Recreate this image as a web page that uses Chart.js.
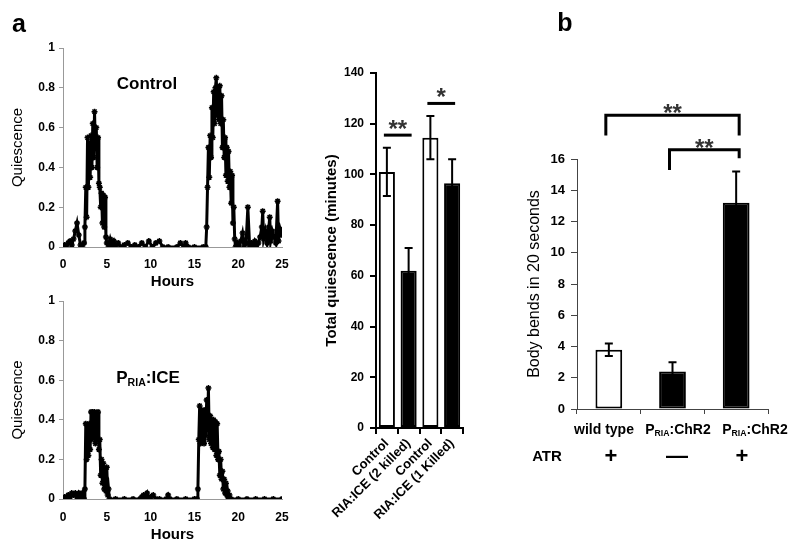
<!DOCTYPE html>
<html lang="en">
<head>
    <meta charset="UTF-8">
    <title>Quiescence and body bends</title>
    <script src="https://cdn.jsdelivr.net/npm/chart.js"></script>
    <style>
        body { margin: 0; background: #fff; font-family: Arial, "Liberation Sans", sans-serif; }
        #page { position: relative; width: 800px; height: 552px; overflow: hidden; }
        canvas { position: absolute; }
        .lbl { position: absolute; transform: translate(-50%, -50%); white-space: nowrap; line-height: 1; font-weight: bold; color: #000; }
        .lbl sub { font-size: 0.62em; vertical-align: -0.25em; }
    </style>
</head>
<body>
<div id="page">
    <canvas id="ctrlChart" width="300" height="300" style="left:0;top:0"></canvas>
    <canvas id="iceChart" width="300" height="297" style="left:0;top:255px"></canvas>
    <canvas id="killChart" width="200" height="552" style="left:300px;top:0"></canvas>
    <canvas id="bendChart" width="280" height="552" style="left:520px;top:0"></canvas>

    <div class="lbl" style="left:19px;top:23px;font-size:25px">a</div>
    <div class="lbl" style="left:565px;top:22px;font-size:25px">b</div>
    <div class="lbl" style="left:147px;top:83px;font-size:17px">Control</div>
    <div class="lbl" style="left:148px;top:378px;font-size:17px">P<sub>RIA</sub>:ICE</div>
    <div class="lbl" style="left:604px;top:429px;font-size:14px">wild type</div>
    <div class="lbl" style="left:678px;top:430px;font-size:14px">P<sub>RIA</sub>:ChR2</div>
    <div class="lbl" style="left:755px;top:430px;font-size:14px">P<sub>RIA</sub>:ChR2</div>
    <div class="lbl" style="left:547px;top:455px;font-size:15px">ATR</div>
    <div id="atrRow"></div>
</div>

<script>
    // panel a, top: control worms (hours, quiescence fraction)
    var ctrlHours = [
        0, 0.2, 0.4, 0.6, 0.8, 1.0, 1.2, 1.4, 1.6, 1.8, 2.0, 2.2, 2.4,
        2.5, 2.6, 2.7, 2.8, 2.9, 3.0, 3.1, 3.2, 3.3, 3.4, 3.5, 3.6, 3.7, 3.8, 3.9, 4.0, 4.1, 4.2, 4.3, 4.4, 4.5, 4.6, 4.7, 4.8, 4.9, 5.0,
        5.2, 5.4, 5.6, 5.8, 6.0, 6.3, 6.6, 7.0, 7.4, 7.8, 8.2, 8.6, 9.0, 9.4, 9.8, 10.2, 10.6, 11.0, 11.4, 12.0, 13.0, 13.4, 13.8, 14.0, 14.3, 15.0, 16.0, 16.3,
        16.4, 16.5, 16.6, 16.7, 16.8, 16.9, 17.0, 17.1, 17.2, 17.3, 17.4, 17.5, 17.6, 17.7, 17.8, 17.9, 18.0, 18.1, 18.2, 18.3, 18.4, 18.5, 18.6, 18.7, 18.8, 18.9, 19.0, 19.1, 19.2, 19.3, 19.4, 19.5, 19.6, 19.7,
        19.9, 20.1, 20.3, 20.5, 20.7, 20.9, 21.1, 21.3, 21.5, 21.7, 21.9, 22.1, 22.3, 22.5, 22.7, 22.8, 22.9, 23.1, 23.3, 23.5, 23.6, 23.7, 23.9, 24.1, 24.3, 24.5, 24.6, 24.8, 25.0
    ];
    var ctrlQuiescence = [
        0, 0.01, 0, 0.02, 0.03, 0.01, 0.04, 0.08, 0.12, 0.06, 0.01, 0, 0.02,
        0.1, 0.3, 0.15, 0.55, 0.3, 0.52, 0.35, 0.56, 0.4, 0.62, 0.45, 0.68, 0.5, 0.6, 0.4, 0.55, 0.32, 0.3, 0.2, 0.27, 0.12, 0.26, 0.1, 0.25, 0.05, 0.02,
        0, 0.04, 0.01, 0.03, 0, 0.02, 0, 0.01, 0.02, 0, 0.01, 0, 0.02, 0, 0.03, 0, 0.02, 0.03, 0, 0, 0, 0.02, 0, 0.02, 0, 0, 0, 0,
        0.1, 0.3, 0.5, 0.35, 0.56, 0.45, 0.7, 0.55, 0.78, 0.62, 0.8, 0.85, 0.66, 0.8, 0.64, 0.81, 0.62, 0.76, 0.5, 0.64, 0.45, 0.55, 0.36, 0.5, 0.33, 0.48, 0.3, 0.38, 0.22, 0.36, 0.12, 0.2, 0.04, 0,
        0.02, 0, 0.03, 0.07, 0.01, 0.02, 0.2, 0.01, 0.02, 0, 0.03, 0.01, 0.02, 0.05, 0.1, 0.18, 0.04, 0.08, 0.02, 0.1, 0.15, 0.03, 0.08, 0.05, 0.02, 0.23, 0.03, 0.09, 0.06
    ];

    // panel a, bottom: PRIA:ICE worms
    var iceHours = [
        0, 0.2, 0.4, 0.6, 0.8, 1.0, 1.2, 1.4, 1.6, 1.8, 2.0, 2.2, 2.4,
        2.5, 2.6, 2.7, 2.8, 2.9, 3.0, 3.1, 3.2, 3.3, 3.4, 3.5, 3.6, 3.7, 3.8, 3.9, 4.0, 4.1, 4.2, 4.3, 4.4, 4.5, 4.6, 4.7, 4.8, 4.9, 5.0, 5.1, 5.2, 5.3,
        6, 7, 8, 8.8, 9.0, 9.2, 9.4, 9.6, 9.8, 10.0, 10.3, 10.6, 11, 11.8, 12.0, 12.2, 13, 14, 15, 15.3,
        15.4, 15.5, 15.6, 15.7, 15.8, 15.9, 16.0, 16.1, 16.2, 16.3, 16.4, 16.5, 16.6, 16.7, 16.8, 16.9, 17.0, 17.1, 17.2, 17.3, 17.4, 17.5, 17.6, 17.7, 17.8, 17.9, 18.0, 18.1, 18.2, 18.3, 18.4, 18.5, 18.6, 18.7, 18.8, 18.9, 19.0,
        19.2, 20, 21, 22, 23, 24, 25
    ];
    var iceQuiescence = [
        0, 0.01, 0, 0.02, 0.01, 0.03, 0.02, 0.03, 0.01, 0.03, 0.01, 0.03, 0,
        0.05, 0.38, 0.2, 0.37, 0.22, 0.38, 0.25, 0.44, 0.3, 0.44, 0.32, 0.44, 0.28, 0.43, 0.3, 0.44, 0.25, 0.3, 0.12, 0.2, 0.08, 0.18, 0.05, 0.15, 0.04, 0.16, 0.02, 0.05, 0,
        0, 0, 0, 0, 0.01, 0.02, 0.01, 0.03, 0, 0.01, 0.02, 0, 0, 0, 0.02, 0, 0, 0, 0, 0,
        0.05, 0.3, 0.47, 0.28, 0.45, 0.3, 0.44, 0.28, 0.45, 0.32, 0.5, 0.35, 0.56, 0.3, 0.42, 0.28, 0.4, 0.26, 0.4, 0.25, 0.39, 0.22, 0.38, 0.2, 0.24, 0.12, 0.2, 0.1, 0.14, 0.05, 0.1, 0.03, 0.08, 0.02, 0.04, 0.01, 0.02,
        0, 0, 0, 0, 0, 0, 0
    ];

    // panel a, right: total quiescence
    var killLabels = ["Control", "RIA:ICE (2 killed)", "Control", "RIA:ICE (1 Killed)"];
    var killMeans = [101, 62, 114.5, 96.5];
    var killErrHigh = [110.5, 71, 123, 106];
    var killErrLow = [91.5, 53, 106, 87];
    var killColors = ["#ffffff", "#000000", "#ffffff", "#000000"];
    var killStars = [{ from: 0, to: 1, level: 115.5, text: "**" }, { from: 2, to: 3, level: 128, text: "*" }];

    // panel b: body bends
    var bendLabels = ["wild type", "PRIA:ChR2", "PRIA:ChR2"];
    var bendMeans = [3.8, 2.4, 13.2];
    var bendErrHigh = [4.2, 3.0, 15.2];
    var bendErrLow = [3.4, 1.8, 11.2];
    var bendColors = ["#ffffff", "#000000", "#000000"];
    var atrSigns = ["+", "\u2014", "+"];
    var bendStars = [
        { from: 0, to: 2, level: 18.8, legs: [17.5, 17.5], text: "**" },
        { from: 1, to: 2, level: 16.6, legs: [15.3, 16.05], text: "**" }
    ];

    Chart.defaults.font.family = 'Arial, "Liberation Sans", sans-serif';
    Chart.defaults.color = "#000";

    function toPoints(xs, ys) {
        var pts = [];
        for (var i = 0; i < xs.length; i++) pts.push({ x: xs[i], y: ys[i] });
        return pts;
    }

    function fixWidth(w) { return function (scale) { scale.width = w; }; }
    function fixHeight(h) { return function (scale) { scale.height = h; }; }

    // error bars and significance marks, positioned through the scales
    var barExtras = {
        id: "barExtras",
        afterDatasetsDraw: function (chart, args, opts) {
            var ctx = chart.ctx;
            var y = chart.scales.y;
            var bars = chart.getDatasetMeta(0).data;
            ctx.save();
            ctx.strokeStyle = "#000";
            ctx.lineWidth = opts.lineWidth;
            for (var i = 0; i < bars.length; i++) {
                var x = bars[i].x;
                var top = y.getPixelForValue(opts.high[i]);
                var bot = y.getPixelForValue(opts.low[i]);
                ctx.beginPath();
                ctx.moveTo(x, bot); ctx.lineTo(x, top);
                ctx.moveTo(x - opts.cap, top); ctx.lineTo(x + opts.cap, top);
                ctx.moveTo(x - opts.cap, bot); ctx.lineTo(x + opts.cap, bot);
                ctx.stroke();
            }
            ctx.lineWidth = opts.starLine;
            ctx.fillStyle = "#333";
            ctx.textAlign = "center";
            ctx.font = "bold 24px Arial, 'Liberation Sans', sans-serif";
            opts.stars.forEach(function (s) {
                var x1 = bars[s.from].x - opts.starPad;
                var x2 = bars[s.to].x + opts.starPad;
                var yl = y.getPixelForValue(s.level);
                ctx.beginPath();
                if (s.legs) {
                    ctx.moveTo(x1, y.getPixelForValue(s.legs[0]));
                    ctx.lineTo(x1, yl);
                    ctx.lineTo(x2, yl);
                    ctx.lineTo(x2, y.getPixelForValue(s.legs[1]));
                } else {
                    ctx.moveTo(x1, yl);
                    ctx.lineTo(x2, yl);
                }
                ctx.stroke();
                ctx.fillText(s.text, (x1 + x2) / 2, yl + opts.starLift);
            });
            ctx.restore();
        }
    };

    function quiescenceChart(id, hours, values, padTop, padBottom, tickPad, titlePad) {
        new Chart(document.getElementById(id), {
            type: "line",
            data: {
                datasets: [{
                    data: toPoints(hours, values),
                    borderColor: "#000",
                    backgroundColor: "#000",
                    borderWidth: 3,
                    pointStyle: "star",
                    pointRadius: 3,
                    pointBorderWidth: 1.5,
                    tension: 0
                }]
            },
            options: {
                responsive: false,
                animation: false,
                layout: { padding: { top: padTop, right: 18, bottom: padBottom, left: 0 } },
                plugins: { legend: { display: false }, tooltip: { enabled: false } },
                scales: {
                    x: {
                        type: "linear", min: 0, max: 25,
                        ticks: { stepSize: 5, padding: tickPad, font: { size: 12, weight: "bold" } },
                        grid: { display: false },
                        border: { color: "#999" },
                        title: { display: true, text: "Hours", font: { size: 15, weight: "bold" }, padding: { top: 0, bottom: titlePad } },
                        afterFit: fixHeight(45)
                    },
                    y: {
                        min: 0, max: 1,
                        ticks: {
                            stepSize: 0.2, padding: 4, font: { size: 12, weight: "bold" },
                            callback: function (v) { return String(Math.round(v * 10) / 10); }
                        },
                        grid: { drawOnChartArea: false, tickLength: 4, color: "#999" },
                        border: { color: "#999" },
                        title: { display: true, text: "Quiescence", font: { size: 15 }, padding: { top: 9, bottom: 0 } },
                        afterFit: fixWidth(63)
                    }
                }
            }
        });
    }

    quiescenceChart("ctrlChart", ctrlHours, ctrlQuiescence, 48, 8, 2, 1);
    quiescenceChart("iceChart", iceHours, iceQuiescence, 46, 8, 3, 0);

    new Chart(document.getElementById("killChart"), {
        type: "bar",
        data: {
            labels: killLabels,
            datasets: [{
                data: killMeans,
                backgroundColor: killColors,
                borderColor: "#000",
                borderWidth: 2,
                borderSkipped: false,
                categoryPercentage: 1,
                barPercentage: 0.74
            }]
        },
        plugins: [barExtras],
        options: {
            responsive: false,
            animation: false,
            layout: { padding: { top: 73, right: 37, bottom: 14, left: 0 } },
            plugins: {
                legend: { display: false }, tooltip: { enabled: false },
                barExtras: { high: killErrHigh, low: killErrLow, cap: 4, lineWidth: 2, stars: killStars, starPad: 3, starLine: 3, starLift: 2 }
            },
            scales: {
                x: {
                    ticks: { minRotation: 45, maxRotation: 45, autoSkip: false, padding: 2, font: { size: 13, weight: "bold" } },
                    grid: { drawOnChartArea: false, tickLength: 6, color: "#000", lineWidth: 2 },
                    border: { color: "#000", width: 2 },
                    afterFit: fixHeight(110)
                },
                y: {
                    min: 0, max: 140,
                    ticks: { stepSize: 20, padding: 6, font: { size: 12, weight: "bold" } },
                    grid: { drawOnChartArea: false, tickLength: 6, color: "#000", lineWidth: 2 },
                    border: { color: "#000", width: 2 },
                    title: { display: true, text: "Total quiescence (minutes)", font: { size: 15, weight: "bold" }, padding: { top: 23, bottom: 0 } },
                    afterFit: fixWidth(76)
                }
            }
        }
    });

    new Chart(document.getElementById("bendChart"), {
        type: "bar",
        data: {
            labels: bendLabels,
            datasets: [{
                data: bendMeans,
                backgroundColor: bendColors,
                borderColor: "#000",
                borderWidth: 2,
                borderSkipped: false,
                categoryPercentage: 1,
                barPercentage: 0.42
            }]
        },
        plugins: [barExtras],
        options: {
            responsive: false,
            animation: false,
            layout: { padding: { top: 159, right: 32, bottom: 123, left: 0 } },
            plugins: {
                legend: { display: false }, tooltip: { enabled: false },
                barExtras: { high: bendErrHigh, low: bendErrLow, cap: 4, lineWidth: 2, stars: bendStars, starPad: 3, starLine: 3, starLift: 6 }
            },
            scales: {
                x: {
                    ticks: { display: false },
                    grid: { drawOnChartArea: false, tickLength: 5, color: "#444" },
                    border: { color: "#444" },
                    afterFit: fixHeight(20)
                },
                y: {
                    min: 0, max: 16,
                    ticks: { stepSize: 2, padding: 6, font: { size: 13, weight: "bold" } },
                    grid: { drawOnChartArea: false, tickLength: 6, color: "#444" },
                    border: { color: "#444" },
                    title: { display: true, text: "Body bends in 20 seconds", font: { size: 16 }, padding: { top: 5, bottom: 0 } },
                    afterFit: fixWidth(57)
                }
            }
        }
    });

    // ATR row under panel b
    var atrX = [611, 677, 742];
    var row = document.getElementById("atrRow");
    for (var i = 0; i < atrSigns.length; i++) {
        var d = document.createElement("div");
        d.className = "lbl";
        d.style.left = atrX[i] + "px";
        d.style.top = "456px";
        d.style.fontSize = "22px";
        d.textContent = atrSigns[i];
        row.appendChild(d);
    }
</script>
</body>
</html>
